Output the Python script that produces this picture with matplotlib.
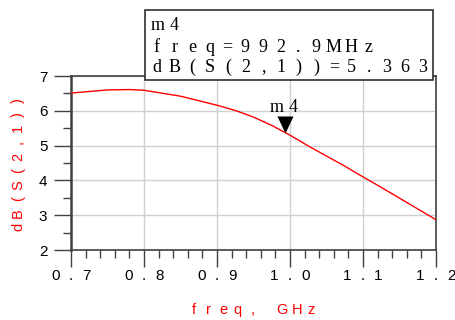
import matplotlib
matplotlib.use("Agg")
import matplotlib.pyplot as plt
from matplotlib.ticker import MultipleLocator
from matplotlib.path import Path

freq = [0.70, 0.75, 0.78, 0.80, 0.85, 0.875, 0.90, 0.925, 0.95, 0.975, 1.00,
        1.025, 1.05, 1.075, 1.10, 1.125, 1.15, 1.175, 1.20]
s21_db = [6.51, 6.60, 6.61, 6.59, 6.42, 6.29, 6.16, 6.01, 5.82, 5.58, 5.30,
          4.99, 4.70, 4.41, 4.10, 3.80, 3.49, 3.18, 2.87]
marker_name = "m4"
marker_freq = 0.9929
marker_val = 5.363
readout_lines = ["freq=992.9MHz", "dB(S(2,1))=5.363"]
xticks = [0.7, 0.8, 0.9, 1.0, 1.1, 1.2]
xtick_labels = ["0.7", "0.8", "0.9", "1.0", "1.1", "1.2"]
yticks = [2, 3, 4, 5, 6, 7]
xlabel = "freq, GHz"
ylabel = "dB(S(2,1))"

W, H = 456, 320
fig = plt.figure(figsize=(W / 100, H / 100), dpi=100)
ax = fig.add_axes([71 / W, 1 - 250 / H, 365 / W, 174 / H])


def spaced(x0, y0, s, pitch, vertical=False, **kw):
    """Place characters at a fixed pitch (pixels); x0,y0 = centre of first char,
    pixel coords measured from the top-left corner."""
    for i, ch in enumerate(s):
        if ch == " ":
            continue
        if vertical:
            x, y = x0, y0 - i * pitch
            fig.text(x / W, 1 - y / H, ch, rotation=90, ha="center", va="center", **kw)
        else:
            x, y = x0 + i * pitch, y0
            fig.text(x / W, 1 - y / H, ch, ha="center", va="center", **kw)


ax.plot(freq, s21_db, color="red", lw=1.0, zorder=3)
ax.set_xlim(0.7, 1.2)
ax.set_ylim(2, 7)
ax.set_xticks(xticks)
ax.set_xticklabels([])
ax.set_yticks(yticks)
ax.set_yticklabels([str(v) for v in yticks])
ax.xaxis.set_minor_locator(MultipleLocator(0.02))
ax.yaxis.set_minor_locator(MultipleLocator(0.5))
ax.grid(True, which="major", color="#d0d0d0", lw=1.0)
ax.tick_params(which="major", direction="out", length=12, width=1, color="#404040",
               labelsize=11, pad=5)
ax.tick_params(which="minor", direction="out", length=6, width=1, color="#404040")
for lab in ax.get_yticklabels():
    lab.set_fontfamily("Liberation Sans")
for s in ax.spines.values():
    s.set_color("#404040")
    s.set_linewidth(1.2)
ax.spines["left"].set_linewidth(1.8)

# x tick labels, spaced characters centred on each tick
x0px, x1px = 71, 436
for v, lab in zip(xticks, xtick_labels):
    cx = x0px + (v - 0.7) / 0.5 * (x1px - x0px)
    pitch = 15.5
    n = len(lab)
    spaced(cx - (n - 1) / 2 * pitch, 276, lab, pitch, fontsize=11, family="Liberation Sans")

# axis labels
spaced(193.5, 310, xlabel, 14.75, fontsize=10.5, family="Liberation Sans", color="red")
spaced(18, 227, ylabel, 14.1, vertical=True, fontsize=10.5, family="Liberation Sans", color="red")

# marker (tip of triangle at the data point)
tri = Path([(-0.47, 1.0), (0.47, 1.0), (0.0, 0.0), (-0.47, 1.0)],
           [Path.MOVETO, Path.LINETO, Path.LINETO, Path.CLOSEPOLY])
ax.plot([marker_freq], [marker_val], marker=tri, markersize=24.5, color="black",
        markeredgewidth=0, zorder=4)
mx = x0px + (marker_freq - 0.7) / 0.5 * (x1px - x0px)
my = 75.7 + (7 - marker_val) * 34.8
spaced(mx - 8.5, my - 25, marker_name, 17, fontsize=13, family="Liberation Serif")

# readout box
fig.patches.append(plt.Rectangle((145 / W, 1 - 80 / H), 288 / W, 70 / H, transform=fig.transFigure,
                                 fill=True, facecolor="white", edgecolor="#303030", lw=1.2, zorder=10))
spaced(158, 26, marker_name, 16, fontsize=13, family="Liberation Serif", zorder=11)
spaced(156.5, 47, readout_lines[0], 17.7, fontsize=13, family="Liberation Serif", zorder=11)
spaced(157, 67, readout_lines[1], 17.7, fontsize=13, family="Liberation Serif", zorder=11)

fig.savefig("out.png", dpi=100)
